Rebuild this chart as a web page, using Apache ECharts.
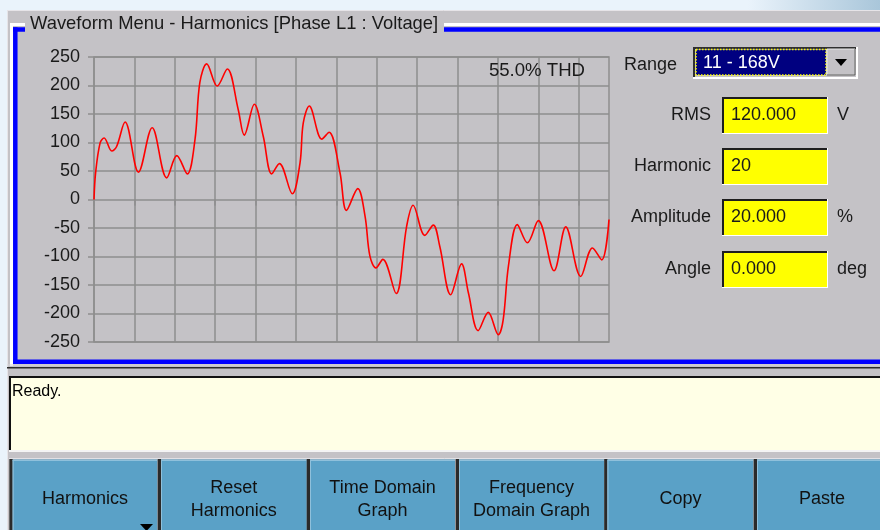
<!DOCTYPE html>
<html>
<head>
<meta charset="utf-8">
<script src="https://cdn.jsdelivr.net/npm/echarts@6/dist/echarts.min.js"></script>
<style>
html,body{margin:0;padding:0;background:#c4c2c6;}
#c{width:880px;height:530px;}
</style>
</head>
<body>
<div id="c"></div>
<script>
// ---- data (x in grid divisions, y in volts) ----
const timeDiv = [0,0.04,0.15,0.25,0.44,0.56,0.77,1.10,1.44,1.80,2.05,2.31,2.50,2.62,2.79,3.05,3.30,3.57,3.72,3.97,4.19,4.40,4.59,4.91,5.10,5.18,5.33,5.64,5.82,6.09,6.25,6.53,6.71,6.83,6.98,7.15,7.48,7.74,7.90,8.19,8.40,8.56,8.83,9.10,9.27,9.51,9.76,10.01,10.13,10.26,10.48,10.73,11.00,11.39,11.68,12.05,12.34,12.57,12.75];
const voltage = [0,47,99,108,85,93,136,48,126,38,77,45,105,205,238,199,229,158,113,167,111,45,63,10,64,134,164,106,118,47,-19,19,-29,-99,-120,-105,-165,-47,-10,-63,-45,-82,-167,-113,-164,-230,-198,-237,-211,-117,-44,-76,-37,-125,-48,-135,-85,-106,-35];
const yTicks = [-250,-200,-150,-100,-50,0,50,100,150,200,250];
const xTicks = [0,1,2,3,4,5,6,7,8,9,10,11,12];
const thdLabel = '55.0% THD';
const titleText = 'Waveform Menu - Harmonics [Phase L1 : Voltage]';
const fieldLabels = ['RMS','Harmonic','Amplitude','Angle'];
const fieldValues = ['120.000','20','20.000','0.000'];
const fieldUnits = ['V','','%','deg'];
const rangeValue = '11 - 168V';
const buttons = [['Harmonics'],['Reset','Harmonics'],['Time Domain','Graph'],['Frequency','Domain Graph'],['Copy'],['Paste']];

const FONT = 'Liberation Sans, Arial, sans-serif';
const TXT = '#1a1a1a';
const GRIDC = '#8e8e8e';

const chart = echarts.init(document.getElementById('c'), null, {renderer:'canvas', width:880, height:530});

const g = [];
// outer light-blue frame
g.push({type:'rect', shape:{x:0,y:0,width:880,height:10}, style:{fill:new echarts.graphic.LinearGradient(0,0,1,0,[{offset:0,color:'#eaf3fb'},{offset:0.85,color:'#eaf3fb'},{offset:1,color:'#a9c6da'}])}});
g.push({type:'rect', shape:{x:0,y:0,width:7,height:530}, style:{fill:'#eaf3fb'}});
g.push({type:'line', shape:{x1:7.5,y1:10,x2:7.5,y2:530}, style:{stroke:'#e6e4e8',lineWidth:1}});
g.push({type:'line', shape:{x1:7,y1:10.5,x2:880,y2:10.5}, style:{stroke:'#e6e4e8',lineWidth:1}});
// group box: white outer line + blue line
g.push({type:'line', shape:{x1:10,y1:24.5,x2:25,y2:24.5}, style:{stroke:'#ffffff',lineWidth:3}});
g.push({type:'line', shape:{x1:444,y1:24.5,x2:880,y2:24.5}, style:{stroke:'#ffffff',lineWidth:3}});
g.push({type:'line', shape:{x1:11.5,y1:23,x2:11.5,y2:366}, style:{stroke:'#ffffff',lineWidth:3}});
g.push({type:'line', shape:{x1:13,y1:29.5,x2:25,y2:29.5}, style:{stroke:'#0000ff',lineWidth:4.5}});
g.push({type:'line', shape:{x1:444,y1:29.5,x2:880,y2:29.5}, style:{stroke:'#0000ff',lineWidth:4.5}});
g.push({type:'line', shape:{x1:15.3,y1:27.3,x2:15.3,y2:364}, style:{stroke:'#0000ff',lineWidth:4.5}});
g.push({type:'line', shape:{x1:13,y1:361.7,x2:880,y2:361.7}, style:{stroke:'#0000ff',lineWidth:4.5}});
g.push({type:'text', style:{text:titleText, x:30, y:24, font:'18.4px '+FONT, fill:TXT, textVerticalAlign:'middle'}});
// THD label
g.push({type:'text', z:10, style:{text:thdLabel, x:585, y:71, font:'18.6px '+FONT, fill:TXT, textAlign:'right', textVerticalAlign:'middle'}});
// Range dropdown
g.push({type:'text', style:{text:'Range', x:624, y:65, font:'18px '+FONT, fill:TXT, textVerticalAlign:'middle'}});
g.push({type:'rect', shape:{x:693,y:47,width:165,height:32}, style:{fill:'#ffffff'}});
g.push({type:'rect', shape:{x:693,y:47,width:163,height:30}, style:{fill:'#303030'}});
g.push({type:'rect', shape:{x:695,y:49,width:161,height:28}, style:{fill:'#c4c2c6'}});
g.push({type:'rect', shape:{x:696,y:49.5,width:130,height:25.5}, style:{fill:'#000080', stroke:'#ffff00', lineWidth:1.5, lineDash:[1.5,1.5]}});
g.push({type:'text', style:{text:rangeValue, x:703, y:63, font:'18px '+FONT, fill:'#ffffff', textVerticalAlign:'middle'}});
g.push({type:'rect', shape:{x:827,y:49,width:28,height:26}, style:{fill:'#c4c2c6', stroke:'#e8e8e8', lineWidth:1}});
g.push({type:'line', shape:{x1:827,y1:75,x2:855,y2:75}, style:{stroke:'#555',lineWidth:1}});
g.push({type:'line', shape:{x1:855,y1:49,x2:855,y2:75}, style:{stroke:'#555',lineWidth:1}});
g.push({type:'polygon', shape:{points:[[835,59],[847,59],[841,66]]}, style:{fill:'#000'}});
// fields
const fieldY = [115,166,217,269];
for (let i=0;i<fieldLabels.length;i++){
  const cy = fieldY[i];
  g.push({type:'text', style:{text:fieldLabels[i], x:711, y:cy, font:'18px '+FONT, fill:TXT, textAlign:'right', textVerticalAlign:'middle'}});
  g.push({type:'rect', shape:{x:722,y:cy-18,width:106,height:37}, style:{fill:'#ffffff'}});
  g.push({type:'rect', shape:{x:722,y:cy-18,width:105,height:36}, style:{fill:'#1e1e1e'}});
  g.push({type:'rect', shape:{x:724,y:cy-16,width:103,height:34}, style:{fill:'#ffff00'}});
  g.push({type:'text', style:{text:fieldValues[i], x:731, y:cy, font:'18px '+FONT, fill:TXT, textVerticalAlign:'middle'}});
  if (fieldUnits[i]) g.push({type:'text', style:{text:fieldUnits[i], x:837, y:cy, font:'18px '+FONT, fill:TXT, textVerticalAlign:'middle'}});
}
// status area
g.push({type:'line', shape:{x1:7,y1:365,x2:880,y2:365}, style:{stroke:'#d8d6da',lineWidth:1}});
g.push({type:'line', shape:{x1:7,y1:367.8,x2:880,y2:367.8}, style:{stroke:'#2a2a2a',lineWidth:1.6}});
g.push({type:'rect', shape:{x:9,y:376,width:871,height:75}, style:{fill:'#ffffe6'}});
g.push({type:'line', shape:{x1:9,y1:377,x2:880,y2:377}, style:{stroke:'#111',lineWidth:2}});
g.push({type:'line', shape:{x1:10,y1:376,x2:10,y2:451}, style:{stroke:'#111',lineWidth:2}});
g.push({type:'line', shape:{x1:9,y1:451,x2:880,y2:451}, style:{stroke:'#f4f4f4',lineWidth:2}});
g.push({type:'text', style:{text:'Ready.', x:12, y:392, font:'16px '+FONT, fill:'#000', textVerticalAlign:'middle'}});
// buttons
const btnX = [12.7,161,310,459,607.5,757];
const btnW = [144.6,145.7,145,145,145.8,130];
g.push({type:'line', shape:{x1:9,y1:458.5,x2:880,y2:458.5}, style:{stroke:'#e2e0e4',lineWidth:1}});
for (let i=0;i<buttons.length;i++){
  const x = btnX[i], w = btnW[i];
  g.push({type:'rect', shape:{x:x-3.3,y:459,width:3.3,height:71}, style:{fill:'#2a2a2a'}});
  g.push({type:'rect', shape:{x:x,y:459.5,width:w,height:71}, style:{fill:'#5aa1c7'}});
  g.push({type:'line', shape:{x1:x,y1:460.5,x2:x+w,y2:460.5}, style:{stroke:'#8fc0db',lineWidth:1}});
  g.push({type:'line', shape:{x1:x+0.5,y1:460,x2:x+0.5,y2:530}, style:{stroke:'#8fc0db',lineWidth:1}});
  const cx = x + w/2;
  const lines = buttons[i];
  if (lines.length===1){
    g.push({type:'text', style:{text:lines[0], x:cx, y:499, font:'18px '+FONT, fill:'#111', textAlign:'center', textVerticalAlign:'middle'}});
  } else {
    g.push({type:'text', style:{text:lines[0], x:cx, y:488, font:'18px '+FONT, fill:'#111', textAlign:'center', textVerticalAlign:'middle'}});
    g.push({type:'text', style:{text:lines[1], x:cx, y:511, font:'18px '+FONT, fill:'#111', textAlign:'center', textVerticalAlign:'middle'}});
  }
}
g.push({type:'polygon', shape:{points:[[140,524],[153,524],[146.5,531]]}, style:{fill:'#000'}});

const seriesData = timeDiv.map((t,i)=>[t, voltage[i]]);

chart.setOption({
  backgroundColor:'#c4c2c6',
  animation:false,
  grid:{left:94, top:57, width:515, height:285, show:true, borderColor:GRIDC, borderWidth:1.5, backgroundColor:'transparent'},
  xAxis:{type:'value', min:0, max:12.75, interval:1,
    axisLine:{show:false},
    axisTick:{show:true, length:6, customValues:xTicks, lineStyle:{color:GRIDC, width:1.5}},
    axisLabel:{show:false},
    splitLine:{show:true, lineStyle:{color:GRIDC, width:1.5}}},
  yAxis:{type:'value', min:-250, max:250, interval:50,
    axisLine:{show:false},
    axisTick:{show:true, length:6, lineStyle:{color:GRIDC, width:1.5}},
    axisLabel:{show:true, margin:14, fontSize:18, fontFamily:FONT, color:TXT, customValues:yTicks},
    splitLine:{show:true, lineStyle:{color:GRIDC, width:1.5}}},
  series:[{type:'line', data:seriesData, symbol:'none', smooth:0.35,
    lineStyle:{color:'#ff0000', width:1.6}, itemStyle:{color:'#ff0000'}, z:5}],
  graphic:{elements:g}
});
</script>
</body>
</html>
